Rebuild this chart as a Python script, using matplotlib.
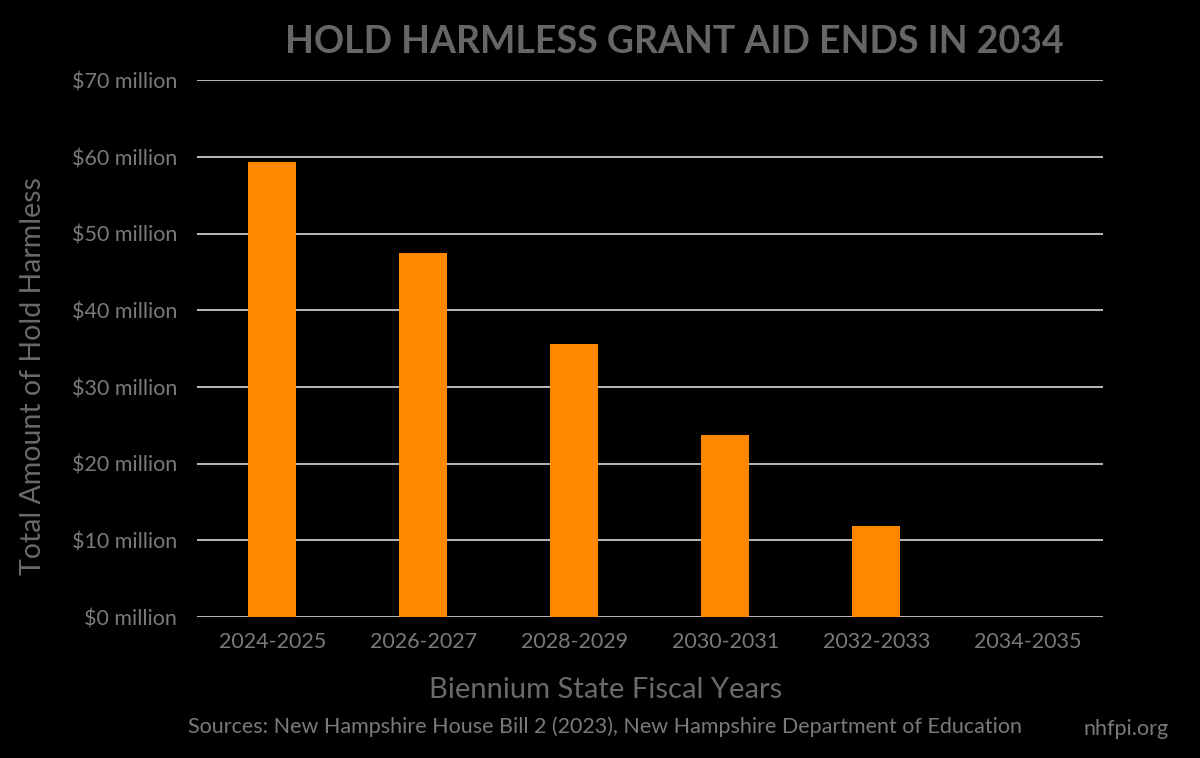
import matplotlib.pyplot as plt
import numpy as np

plt.rcParams["font.family"] = ["Lato", "DejaVu Sans"]

biennia = ["2024-2025", "2026-2027", "2028-2029", "2030-2031", "2032-2033", "2034-2035"]
hold_harmless = [59.4, 47.5, 35.6, 23.7, 11.9, 0.0]  # $ million
y_ticks = [0, 10, 20, 30, 40, 50, 60, 70]

bg = "#000000"
orange = "#ff8800"
grey_text = "#7a7a7a"

fig = plt.figure(figsize=(12, 7.58), dpi=100, facecolor=bg)
ax = fig.add_axes([0.164, 0.186, 0.755, 0.708], facecolor=bg)

x = np.arange(len(biennia))
ax.bar(x, hold_harmless, width=0.32, color=orange, zorder=3)

ax.set_xlim(-0.5, len(biennia) - 0.5)
ax.set_ylim(0, 70)
ax.set_yticks(y_ticks)
ax.set_yticklabels([f"${v} million" for v in y_ticks])
ax.set_xticks(x)
ax.set_xticklabels(biennia)

ax.grid(axis="y", color="#c8c8c8", linewidth=1.3, zorder=0)
for s in ax.spines.values():
    s.set_visible(False)
ax.tick_params(axis="both", length=0, colors=grey_text, labelsize=15.5)
ax.tick_params(axis="y", pad=14)
ax.tick_params(axis="x", pad=11)

# axis titles sit off the axes centre in the original, so place them on the figure
fig.text(0.0275, 0.504, "Total Amount of Hold Harmless", color="#6a6a6a",
         fontsize=20.5, rotation=90, ha="center", va="center")
fig.text(0.505, 0.09, "Biennium State Fiscal Years", color="#6a6a6a",
         fontsize=21, ha="center", va="center")
fig.text(0.5617, 0.944, "HOLD HARMLESS GRANT AID ENDS IN 2034", color="#666666",
         fontsize=27, fontweight="bold", ha="center", va="center")
fig.text(0.504, 0.041, "Sources: New Hampshire House Bill 2 (2023), New Hampshire Department of Education",
         color=grey_text, fontsize=15.5, ha="center", va="center")
fig.text(0.938, 0.038, "nhfpi.org", color=grey_text, fontsize=15.5, ha="center", va="center")

fig.savefig("out.png", dpi=100, facecolor=bg)
